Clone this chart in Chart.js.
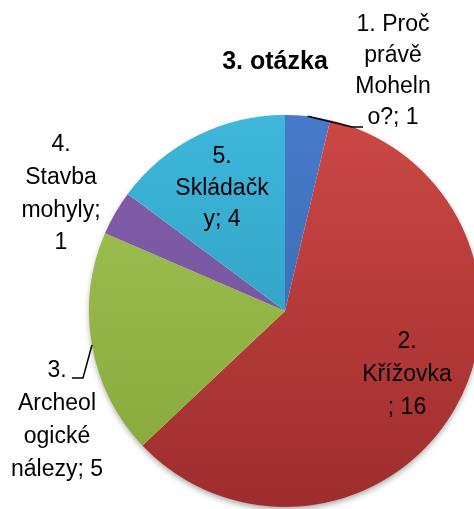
<!DOCTYPE html>
<html><head><meta charset="utf-8">
<script src="https://cdn.jsdelivr.net/npm/chart.js@4"></script>
<style>
html,body{margin:0;padding:0;background:#fff;overflow:hidden}
#wrap{width:474px;height:509px;overflow:hidden;position:relative}
canvas{position:absolute;left:0;top:0}
</style></head><body>
<div id="wrap"><canvas id="c" width="500" height="509"></canvas></div>
<script>
// ---- data ----
const chartTitle = '3. otázka';
const categories = ['1. Proč právě Mohelno?', '2. Křížovka', '3. Archeologické nálezy', '4. Stavba mohyly', '5. Skládačky'];
const values = [1, 16, 5, 1, 4];

// ---- layout / style (not data) ----
const lineBreaks = [[7,5,6],[2,8],[2,7,6],[2,6,7],[2,8]];
const labelLayout = [
  {x:393, y:25,  lh:31,   leader:{elbow:[352,127], end:[363,127]}},
  {x:407, y:342, lh:33},
  {x:57,  y:371, lh:33,   leader:{elbow:[83,378],  end:[72,378]}},
  {x:61,  y:145, lh:32.7},
  {x:222, y:157, lh:31.5}
];
const sliceColors = [
  ['#467ac9','#3764ab'],
  ['#cc4845','#9e2d2d'],
  ['#a3c653','#85a53a'],
  ['#835fab','#6f4e96'],
  ['#3db7db','#2b95b5']
];
const FONT = '"Liberation Sans", Arial, sans-serif';

function splitLines(text, counts){
  const out = []; let rest = text;
  for (const n of counts){ out.push(rest.slice(0,n)); rest = rest.slice(n).replace(/^\s+/, ''); }
  out.push(rest); return out;
}

const shadowPlugin = {
  id:'shadow',
  beforeDatasetsDraw(chart){
    const arc = chart.getDatasetMeta(0).data[0]; if(!arc) return;
    const c = chart.ctx; c.save();
    c.shadowColor = 'rgba(0,0,0,0.38)'; c.shadowBlur = 6; c.shadowOffsetY = 3; c.shadowOffsetX = 0;
    c.fillStyle = '#ffffff';
    c.beginPath(); c.arc(arc.x, arc.y, arc.outerRadius - 1, 0, Math.PI*2); c.fill();
    c.restore();
  }
};

const labelPlugin = {
  id:'labels',
  afterDatasetsDraw(chart){
    const c = chart.ctx; const meta = chart.getDatasetMeta(0);
    c.save();
    // title
    c.fillStyle = '#000'; c.textAlign = 'center'; c.textBaseline = 'middle';
    c.font = 'bold 25px ' + FONT;
    c.fillText(chartTitle, 275, 62);
    // data labels
    c.font = '23px ' + FONT;
    meta.data.forEach((arc, i) => {
      const L = labelLayout[i];
      const lines = splitLines(categories[i] + '; ' + values[i], lineBreaks[i]);
      lines.forEach((t, k) => c.fillText(t, L.x, L.y + k * L.lh));
      if (L.leader){
        const mid = (arc.startAngle + arc.endAngle) / 2;
        const sx = arc.x + arc.outerRadius * Math.cos(mid);
        const sy = arc.y + arc.outerRadius * Math.sin(mid);
        c.strokeStyle = '#000'; c.lineWidth = 1.5;
        c.beginPath(); c.moveTo(sx, sy);
        c.lineTo(L.leader.elbow[0], L.leader.elbow[1]);
        c.lineTo(L.leader.end[0], L.leader.end[1]); c.stroke();
      }
    });
    c.restore();
  }
};

new Chart(document.getElementById('c'), {
  type:'pie',
  data:{
    labels: categories,
    datasets:[{
      data: values,
      borderWidth: 0,
      hoverOffset: 0,
      backgroundColor: (ctx) => {
        const cols = sliceColors[ctx.dataIndex % sliceColors.length];
        const a = ctx.chart.chartArea;
        if (!a) return cols[0];
        const g = ctx.chart.ctx.createLinearGradient(0, a.top, 0, a.bottom);
        g.addColorStop(0, cols[0]); g.addColorStop(1, cols[1]);
        return g;
      }
    }]
  },
  options:{
    responsive:false,
    animation:false,
    layout:{padding:{left:89, right:19, top:115, bottom:2}},
    plugins:{legend:{display:false}, tooltip:{enabled:false}, title:{display:false}}
  },
  plugins:[shadowPlugin, labelPlugin]
});
</script>
</body></html>
